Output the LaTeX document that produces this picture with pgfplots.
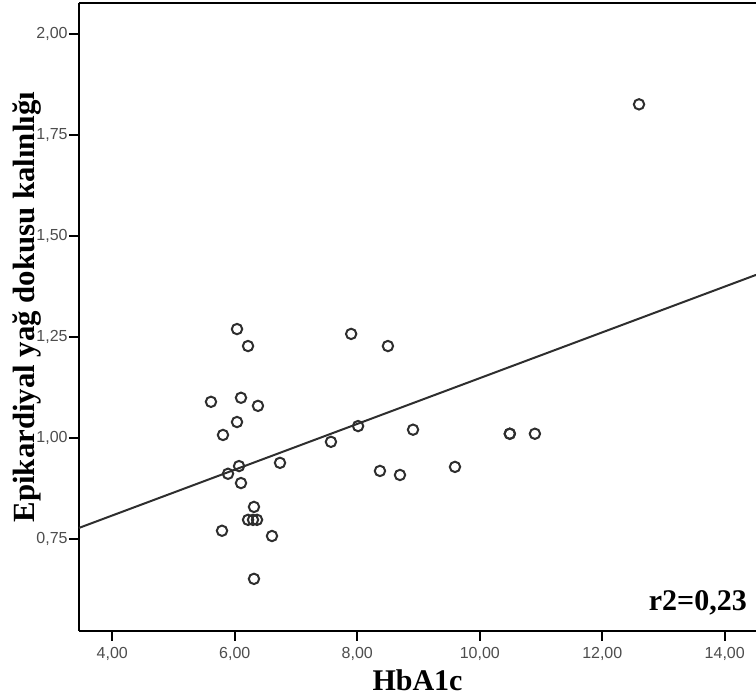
\documentclass[border=0pt]{standalone}
\usepackage{fontspec}
\setmainfont{Liberation Serif}
\newfontfamily\arial{Liberation Sans}
\usepackage{pgfplots}
\pgfplotsset{compat=1.18}
\definecolor{markgray}{HTML}{2E2E2E}
\definecolor{ticktext}{HTML}{4D4D4D}

\begin{document}
\begin{tikzpicture}
\begin{axis}[
    scale only axis, width=338.5pt, height=313.85pt,
    xmin=3.456, xmax=14.51, ymin=0.522, ymax=2.075,
    axis lines=left, axis line style={-, line width=1.2pt, black},
    tick align=outside, major tick length=5pt,
    tick style={line width=0.9pt, black},
    xtick={4,6,8,10,12,14},
    ytick={0.75,1.00,1.25,1.50,1.75,2.00},
    ticklabel style={font=\arial\fontsize{8}{9}\selectfont, text=ticktext,
        /pgf/number format/fixed, /pgf/number format/fixed zerofill,
        /pgf/number format/precision=2, /pgf/number format/use comma,
        /pgf/number format/assume math mode=true},
    yticklabel style={inner sep=0pt, xshift=-0.5pt},
    xticklabel style={yshift=0.5pt},
    xlabel={HbA1c},
    ylabel={Epikardiyal yağ dokusu kalınlığı},
    xlabel style={at={(rel axis cs:0.5,-0.078)}, anchor=center,
        font=\bfseries\fontsize{15}{18}\selectfont},
    ylabel style={at={(rel axis cs:-0.0768,0.516)}, anchor=center,
        font=\bfseries\fontsize{15.4}{18}\selectfont},
    clip=false,
]
% regression line
\addplot[markgray, line width=1pt, mark=none] coordinates {(3.456,0.777) (14.51,1.403)};
% observations
\addplot[only marks, mark=o, mark size=2.6pt, mark options={line width=1pt, draw=markgray}]
coordinates {
(12.60,1.825) (6.036,1.269) (6.216,1.227) (7.90,1.257) (8.50,1.227)
(5.611,1.089) (6.101,1.099) (6.378,1.079) (6.036,1.039) (5.807,1.007)
(8.013,1.029) (8.91,1.020) (7.57,0.990) (10.49,1.010) (10.49,1.010)
(10.90,1.010) (6.738,0.938) (6.069,0.930) (5.889,0.911) (6.101,0.888)
(8.37,0.918) (8.697,0.908) (9.595,0.928) (6.313,0.829)
(6.216,0.797) (6.297,0.797) (6.363,0.797)
(5.791,0.770) (6.607,0.757) (6.313,0.651)
};
\draw[line width=1.2pt, black] (rel axis cs:0,1) -- (rel axis cs:1,1);
\node[anchor=east, inner sep=0pt, font=\bfseries\fontsize{15}{18}\selectfont] at (rel axis cs:0.987,0.0446) {r2=0,23};
\coordinate (bl) at (rel axis cs:0,0);
\coordinate (tr) at (rel axis cs:1,1);
\end{axis}
\pgfresetboundingbox
\path ([xshift=-39.5pt,yshift=-34pt]bl) rectangle ([yshift=1.65pt]tr);
\end{tikzpicture}
\end{document}
